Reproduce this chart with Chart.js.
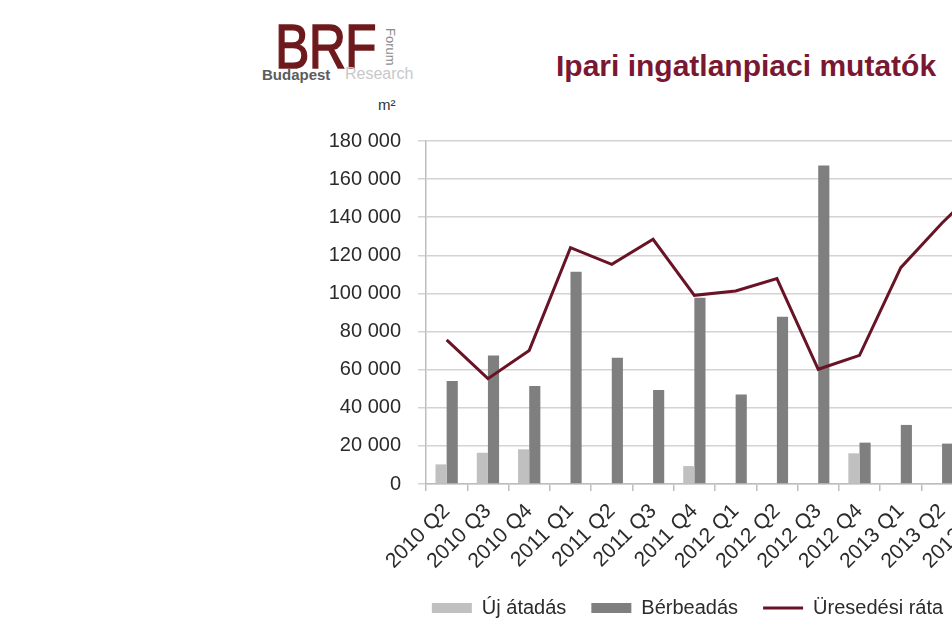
<!DOCTYPE html>
<html>
<head>
<meta charset="utf-8">
<script src="https://cdn.jsdelivr.net/npm/chart.js@4.4.0/dist/chart.umd.min.js"></script>
<style>
  html, body { margin: 0; padding: 0; background: #fff; overflow: hidden; width: 952px; height: 638px; }
  body { position: relative; font-family: Arial, "Liberation Sans", sans-serif; }
  .logo-brf { position: absolute; left: 275px; top: 15px; font-size: 63px; line-height: 63px; color: #6e1a1c;
    transform: scaleX(0.82); transform-origin: left top; letter-spacing: -1px; -webkit-text-stroke: 1.5px #6e1a1c; }
  .logo-forum { position: absolute; left: 383px; top: 28px; font-size: 13px; line-height: 14px; color: #8c8c8c;
    transform: rotate(90deg); transform-origin: left top; margin-left: 14px; }
  .logo-bud { position: absolute; left: 262px; top: 66px; font-size: 15px; font-weight: bold; color: #5c5c5c; }
  .logo-res { position: absolute; left: 345px; top: 65px; font-size: 16px; color: #c8c8c8; }
  .unit { position: absolute; left: 378px; top: 96px; font-size: 15px; color: #333; }
  .title { position: absolute; left: 556px; top: 51px; font-size: 30px; line-height: 30px; font-weight: bold; color: #7a1832; white-space: nowrap; }
  #wrap { position: absolute; left: 300px; top: 112px; width: 775px; height: 526px; }
</style>
</head>
<body>
<div class="logo-brf">BRF</div>
<div class="logo-forum">Forum</div>
<div class="logo-bud">Budapest</div>
<div class="logo-res">Research</div>
<div class="unit">m²</div>
<div class="title">Ipari ingatlanpiaci mutatók</div>
<div id="wrap"><canvas id="chart" width="775" height="526"></canvas></div>
<script>
// negyedévek
const categories = ["2010 Q2", "2010 Q3", "2010 Q4", "2011 Q1", "2011 Q2", "2011 Q3", "2011 Q4",
  "2012 Q1", "2012 Q2", "2012 Q3", "2012 Q4", "2013 Q1", "2013 Q2", "2013 Q3"];

// m² értékek (leolvasva)
const ujAtadas = [10300, 16400, 18200, null, null, null, 9400, null, null, null, 16100, null, null, null];
const berbeadas = [54000, 67500, 51400, 111400, 66300, 49300, 97800, 47000, 87800, 167200, 21700, 31000, 21200, null];
const uresedesiRata = [75600, 55300, 70100, 124000, 115300, 128400, 99000, 101300, 107800, 60200, 67500, 113500, 137000, 158000];

const yTicks = { min: 0, max: 180000, step: 20000 };

Chart.defaults.font.family = 'Arial, "Liberation Sans", sans-serif';
Chart.defaults.color = "#2b2b2b";

const fmt = (v) => String(v).replace(/\B(?=(\d{3})+(?!\d))/g, " ");

new Chart(document.getElementById("chart").getContext("2d"), {
  type: "bar",
  data: {
    labels: categories,
    datasets: [
      {
        label: "Új átadás",
        data: ujAtadas,
        backgroundColor: "#c0c0c0",
        borderWidth: 0,
        pointStyle: "rect",
        order: 1,
      },
      {
        label: "Bérbeadás",
        data: berbeadas,
        backgroundColor: "#7f7f7f",
        borderWidth: 0,
        pointStyle: "rect",
        order: 1,
      },
      {
        type: "line",
        label: "Üresedési ráta",
        data: uresedesiRata,
        borderColor: "#681326",
        backgroundColor: "#681326",
        borderWidth: 3,
        pointRadius: 0,
        pointStyle: "line",
        tension: 0,
        order: 0,
      },
    ],
  },
  options: {
    responsive: false,
    animation: false,
    layout: { padding: { top: 20, left: 0, right: 0, bottom: 10 } },
    datasets: { bar: { barPercentage: 1, categoryPercentage: 0.54 } },
    plugins: {
      tooltip: { enabled: false },
      legend: {
        position: "bottom",
        labels: {
          usePointStyle: true,
          pointStyleWidth: 40,
          boxHeight: 10,
          padding: 25,
          color: "#2b2b2b",
          font: { size: 20 },
          sort: (a, b) => a.datasetIndex - b.datasetIndex,
        },
      },
    },
    scales: {
      x: {
        afterFit: (s) => { s.height = 89; },
        grid: { drawOnChartArea: false, drawTicks: true, tickLength: 7, color: "#bdbdbd", lineWidth: 1.5 },
        border: { color: "#bdbdbd", width: 1.5 },
        ticks: { autoSkip: false, minRotation: 45, maxRotation: 45, padding: 8, font: { size: 21 } },
      },
      y: {
        min: yTicks.min,
        max: yTicks.max,
        afterFit: (s) => { s.width = 126; },
        grid: { color: "#d3d3d3", lineWidth: 1.5, tickLength: 8 },
        border: { color: "#bdbdbd", width: 1.5 },
        ticks: { stepSize: yTicks.step, padding: 17, font: { size: 20 }, callback: (v) => fmt(v) },
      },
      // jobb oldali tengely helye (a képen kívül esik)
      y1: {
        position: "right",
        afterFit: (s) => { s.width = 71; },
        grid: { display: false },
        border: { display: false },
        ticks: { display: false },
      },
    },
  },
});
</script>
</body>
</html>
